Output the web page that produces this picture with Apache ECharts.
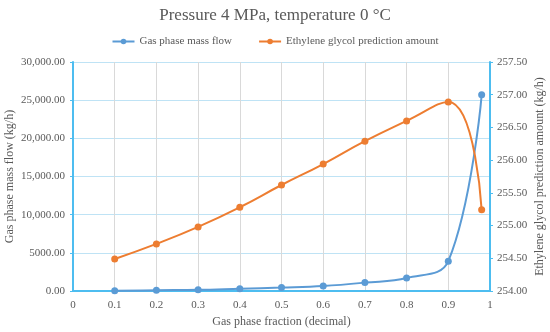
<!DOCTYPE html>
<html><head><meta charset="utf-8">
<script src="https://cdn.jsdelivr.net/npm/echarts@6/dist/echarts.min.js"></script>
<style>html,body{margin:0;padding:0;background:#fff}#c{width:550px;height:332px}</style>
</head><body><div id="c"></div>
<script>
const xValues = [0.1, 0.2, 0.3, 0.4, 0.5, 0.6, 0.7, 0.8, 0.9, 0.98];
const gasMassFlow = [20, 100, 150, 300, 450, 650, 1100, 1700, 3900, 25700];
const glycolAmount = [254.49, 254.72, 254.98, 255.28, 255.62, 255.94, 256.29, 256.60, 256.89, 255.24];
const seriesNames = ['Gas phase mass flow', 'Ethylene glycol prediction amount'];

const font = 'Liberation Serif';
const txt = '#595959';
const axisBlue = '#4dbdf0';
function fmtLeft(v){
  if (v >= 10000) return v.toLocaleString('en-US',{minimumFractionDigits:2,maximumFractionDigits:2});
  return v.toFixed(2);
}
const chart = echarts.init(document.getElementById('c'));
chart.setOption({
  animation:false,
  title:{text:'Pressure 4 MPa, temperature 0 °C',left:'center',top:2,
    textStyle:{fontFamily:font,fontSize:17,fontWeight:'normal',color:txt}},
  legend:{top:31,left:'center',itemGap:26,itemWidth:22,itemHeight:7,
    textStyle:{fontFamily:font,fontSize:11,color:txt},
    data:seriesNames},
  grid:{left:73,right:60,top:62,bottom:41,containLabel:false,outerBoundsMode:'none'},
  xAxis:{type:'value',min:0,max:1,interval:0.1,
    name:'Gas phase fraction (decimal)',nameLocation:'middle',nameGap:25,nameMoveOverlap:false,
    nameTextStyle:{fontFamily:font,fontSize:12,color:txt},
    axisLine:{show:true,lineStyle:{color:axisBlue,width:2}},
    axisTick:{show:false},
    axisLabel:{fontFamily:font,fontSize:11,color:txt,margin:9,formatter:v=>String(+v.toFixed(1))},
    splitLine:{show:true,lineStyle:{color:'#d9d9d9'}}},
  yAxis:[{type:'value',min:0,max:30000,interval:5000,
    name:'Gas phase mass flow (kg/h)',nameLocation:'middle',nameGap:57,nameRotate:90,nameMoveOverlap:false,
    nameTextStyle:{fontFamily:font,fontSize:12,color:txt},
    axisLine:{show:true,lineStyle:{color:axisBlue,width:2}},
    axisTick:{show:true,length:3,lineStyle:{color:axisBlue}},
    axisLabel:{fontFamily:font,fontSize:11,color:txt,margin:8,formatter:fmtLeft},
    splitLine:{show:true,lineStyle:{color:'#bfe3f5'}}},
   {type:'value',min:254,max:257.5,interval:0.5,position:'right',
    name:'Ethylene glycol prediction amount (kg/h)',nameLocation:'middle',nameGap:44,nameRotate:90,nameMoveOverlap:false,
    nameTextStyle:{fontFamily:font,fontSize:12,color:txt},
    axisLine:{show:true,lineStyle:{color:axisBlue,width:2}},
    axisTick:{show:true,length:3,lineStyle:{color:axisBlue}},
    axisLabel:{fontFamily:font,fontSize:11,color:txt,margin:7,formatter:v=>v.toFixed(2)},
    splitLine:{show:false}}],
  series:[
    {name:seriesNames[0],type:'line',yAxisIndex:0,smooth:0.4,symbol:'circle',symbolSize:7,
     itemStyle:{color:'#5b9bd5'},lineStyle:{width:2,color:'#5b9bd5'},
     data:xValues.map((x,i)=>[x,gasMassFlow[i]])},
    {name:seriesNames[1],type:'line',yAxisIndex:1,smooth:0.5,symbol:'circle',symbolSize:7,
     itemStyle:{color:'#ed7d31'},lineStyle:{width:2,color:'#ed7d31'},
     data:xValues.map((x,i)=>[x,glycolAmount[i]])}
  ]
});
</script></body></html>
